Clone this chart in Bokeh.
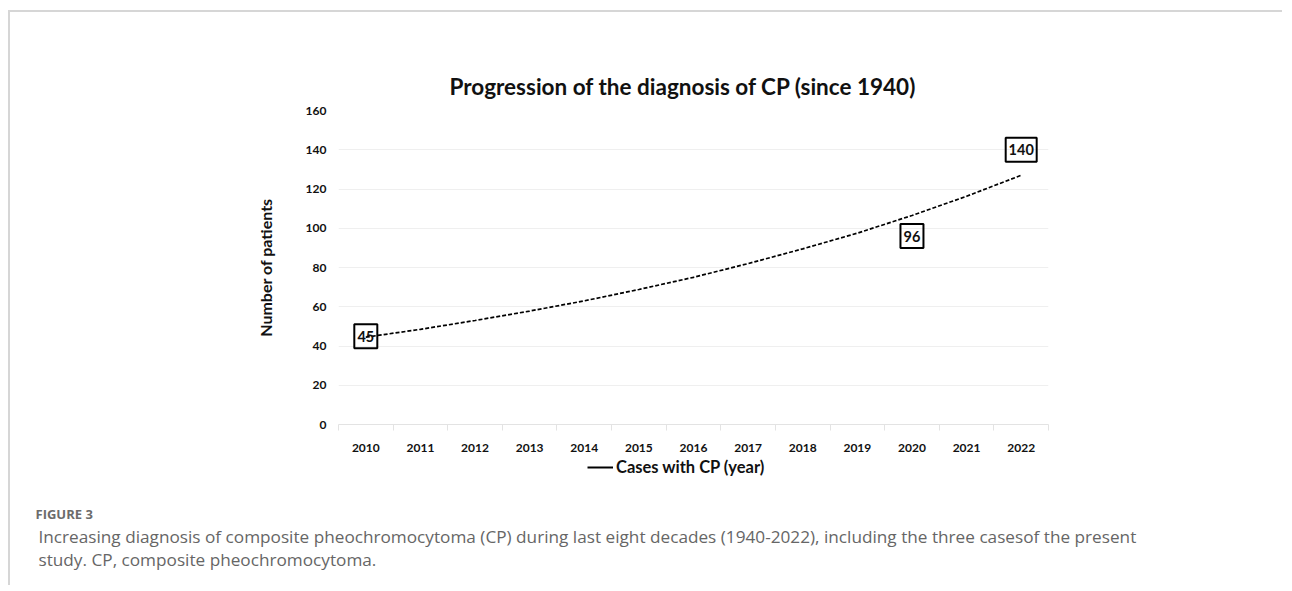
from bokeh.plotting import figure
from bokeh.models import FixedTicker, Legend, LegendItem, ColumnDataSource, Range1d
from bokeh.core.properties import value
from bokeh.embed import file_html
from bokeh.resources import INLINE

# ---- data ----
years = [2010, 2011, 2012, 2013, 2014, 2015, 2016, 2017, 2018, 2019, 2020, 2021, 2022]
trend_values = [44.5, 48.5, 53.0, 57.8, 63.0, 68.8, 75.0, 82.0, 89.5, 97.5, 106.5, 116.3, 127.0]
case_years = [2010, 2020, 2022]
case_counts = [45, 96, 140]
y_ticks = [0, 20, 40, 60, 80, 100, 120, 140, 160]

title_text = "Progression of the diagnosis of CP (since 1940)"
y_label = "Number of patients"
series_name = "Cases with CP (year)"
fig_label = "FIGURE 3"
caption_1 = ("Increasing diagnosis of composite pheochromocytoma (CP) during last eight decades "
             "(1940-2022), including the three casesof the present")
caption_2 = "study. CP, composite pheochromocytoma."

FONT = "Lato"
W = 1274
BORDER = "2px solid #d6d6d6"

# ---------------- chart ----------------
p = figure(width=W, height=447, output_backend="svg", toolbar_location=None,
           x_range=Range1d(years[0] - 0.5, years[-1] + 0.5),
           y_range=Range1d(y_ticks[0], y_ticks[-1]),
           min_border_left=328, min_border_right=236, min_border_top=98, min_border_bottom=35)
p.styles = {"border-top": BORDER, "border-left": BORDER, "margin-top": "10px", "margin-left": "8px"}
p.outline_line_color = None
p.background_fill_color = "white"
p.border_fill_color = "white"

p.title.text = title_text
p.title.align = "left"
p.title.offset = 111
p.title.standoff = 22
p.title.text_font = FONT
p.title.text_font_style = "bold"
p.title.text_font_size = "22.5px"
p.title.text_color = "#111111"

p.xaxis.ticker = FixedTicker(ticks=years, minor_ticks=[y - 0.5 for y in years] + [years[-1] + 0.5])
p.xaxis.axis_line_color = "#e3e3e3"
p.xaxis.major_tick_line_color = None
p.xaxis.minor_tick_line_color = "#e3e3e3"
p.xaxis.minor_tick_in = 0
p.xaxis.minor_tick_out = 6
p.xaxis.major_tick_out = 0
p.xaxis.major_label_standoff = 13
p.xaxis.major_label_text_font = FONT
p.xaxis.major_label_text_font_style = "bold"
p.xaxis.major_label_text_font_size = "12px"
p.xaxis.major_label_text_color = "#111111"

p.yaxis.ticker = FixedTicker(ticks=y_ticks)
p.yaxis.axis_line_color = None
p.yaxis.major_tick_line_color = None
p.yaxis.minor_tick_line_color = None
p.yaxis.major_tick_out = 0
p.yaxis.major_label_standoff = 12
p.yaxis.major_label_text_font = FONT
p.yaxis.major_label_text_font_style = "bold"
p.yaxis.major_label_text_font_size = "12px"
p.yaxis.major_label_text_color = "#111111"
p.yaxis.axis_label = y_label
p.yaxis.axis_label_text_font = FONT
p.yaxis.axis_label_text_font_style = "bold"
p.yaxis.axis_label_text_font_size = "16px"
p.yaxis.axis_label_text_color = "#111111"
p.yaxis.axis_label_standoff = 28

p.xgrid.visible = False
p.ygrid.grid_line_color = "#efefef"
p.ygrid.grid_line_width = 1

# trendline (dashed)
p.line(years, trend_values, line_color="black", line_width=1.7, line_dash="4 2")

# data labels with boxes
labels = [str(c) for c in case_counts]
src = ColumnDataSource(dict(x=case_years, y=case_counts, txt=labels,
                            w=[7 + 8 * len(t) for t in labels]))
p.rect(x="x", y="y", width="w", height=24, width_units="screen", height_units="screen",
       source=src, fill_color=None, line_color="black", line_width=2)
p.text(x="x", y="y", text="txt", source=src, text_align="center", text_baseline="middle",
       text_font=value(FONT), text_font_style="bold", text_font_size="14.5px", text_color="#111111")

# ---------------- legend + caption strip (separate root, no frame alignment) ----------------
H = 128
cap = figure(width=W, height=H, output_backend="svg", toolbar_location=None,
             x_range=Range1d(0, W), y_range=Range1d(H, 0),
             min_border=0, x_axis_location=None, y_axis_location=None)
cap.styles = {"border-left": BORDER, "margin-left": "8px"}
cap.outline_line_color = None
cap.grid.visible = False
cap.background_fill_color = "white"
cap.border_fill_color = "white"

# series renderer (points fall outside this strip; used for the legend swatch)
leg_r = cap.line(case_years, case_counts, line_color="black", line_width=2)
legend = Legend(items=[LegendItem(label=series_name, renderers=[leg_r])],
                location=(577, H - 20), orientation="horizontal",
                padding=0, margin=0, border_line_color=None, background_fill_alpha=0,
                glyph_width=26, glyph_height=20, label_height=20, label_standoff=3,
                label_text_font=FONT, label_text_font_style="bold",
                label_text_font_size="16.5px", label_text_color="#111111")
cap.add_layout(legend, "center")

cap_src = ColumnDataSource(dict(x=[25, 28, 28], y=[56, 79, 102], txt=[fig_label, caption_1, caption_2],
                                size=["13px", "17.2px", "17.2px"],
                                style=["bold", "normal", "normal"],
                                color=["#6b6b6b", "#666666", "#666666"]))
cap.text(x="x", y="y", text="txt", source=cap_src, text_align="left", text_baseline="middle",
         text_font=value("Open Sans"), text_font_size="size", text_font_style="style",
         text_color="color")

open("out.html", "w").write(file_html([p, cap], INLINE))
